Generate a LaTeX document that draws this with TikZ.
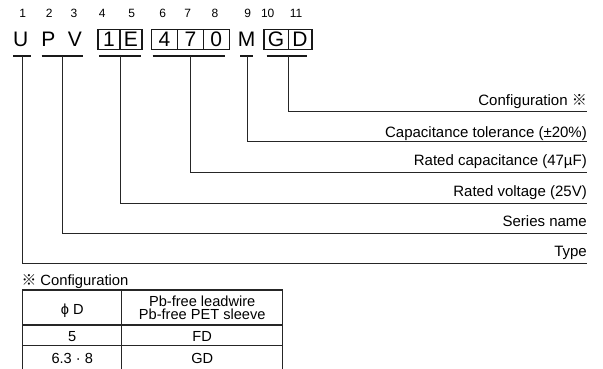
\documentclass[tikz,border=0pt]{standalone}
\usepackage{fontspec}
\setmainfont{Liberation Sans}
\newfontfamily\cjk{Noto Sans CJK JP}
\begin{document}
\begin{tikzpicture}[x=1pt,y=-1pt,
  num/.style={font=\fontsize{12}{14}\selectfont, anchor=base, inner sep=0},
  big/.style={font=\fontsize{21}{24}\selectfont, anchor=base, inner sep=0},
  lbl/.style={font=\fontsize{15}{17}\selectfont, anchor=base east, inner sep=0},
  cell/.style={font=\fontsize{14.6}{13.2}\selectfont, inner sep=0, align=center},
  codebox/.style={line width=1.1pt, black!90},
  uline/.style={line width=2.6pt, black!90},
  conn/.style={line width=1pt, black!85},
  grid/.style={line width=1.1pt, black!85}]
\useasboundingbox (0,0) rectangle (603,369);

% position numbers
\node[num] (n1) at (22.7,17.5) {1};
\node[num] (n2) at (49.3,17.5) {2};
\node[num] (n3) at (74,17.5) {3};
\node[num] (n4) at (102.3,17.5) {4};
\node[num] (n5) at (131.7,17.5) {5};
\node[num] (n6) at (162.7,17.5) {6};
\node[num] (n7) at (187.7,17.5) {7};
\node[num] (n8) at (215,17.5) {8};
\node[num] (n9) at (247.7,17.5) {9};
\node[num] (n10) at (267.7,17.5) {10};
\node[num] (n11) at (296,17.5) {11};

% code letters
\node[big] (cU) at (20.7,46.3) {U};
\node[big] (cP) at (48.3,46.3) {P};
\node[big] (cV) at (75,46.3) {V};
\node[big] (c1) at (109,46.3) {1};
\node[big] (cE) at (131,46.3) {E};
\node[big] (c4) at (164.5,46.3) {4};
\node[big] (c7) at (190.4,46.3) {7};
\node[big] (c0) at (216.3,46.3) {0};
\node[big] (cM) at (246.7,46.3) {M};
\node[big] (cG) at (276,46.3) {G};
\node[big] (cD) at (300,46.3) {D};

% boxes
\draw[codebox] (98,29.5) rectangle (142,49.3);
\draw[codebox] (120,29.5) -- (120,49.3);
\draw[codebox] (151.5,29.5) rectangle (229.3,49.3);
\draw[codebox] (177.5,29.5) -- (177.5,49.3);
\draw[codebox] (203.3,29.5) -- (203.3,49.3);
\draw[codebox] (264,29.5) rectangle (312,49.3);
\draw[codebox] (288.5,29.5) -- (288.5,49.3);

% underlines
\draw[uline] (13.3,56) -- (30.7,56);
\draw[uline] (41.7,56) -- (83.3,56);
\draw[uline] (99.3,56) -- (140.7,56);
\draw[uline] (152.7,56) -- (225,56);
\draw[uline] (240,56) -- (253.3,56);
\draw[uline] (266.7,56) -- (306.7,56);

\coordinate (tU) at (22.7,56);
\coordinate (tPV) at (62.9,56);
\coordinate (t1E) at (120,56);
\coordinate (t470) at (190.5,56);
\coordinate (tM) at (247.5,56);
\coordinate (tGD) at (288.7,56);

\coordinate (eGD) at (587,111.5);
\coordinate (eM) at (587,141.9);
\coordinate (e470) at (587,172.3);
\coordinate (e1E) at (587,203);
\coordinate (ePV) at (587,233.3);
\coordinate (eU) at (587,263.7);

% labels
\node[lbl] (lGD) at (587,106) {Configuration {\cjk ※}};
\node[lbl] (lM) at (587,137.5) {Capacitance tolerance (±20\%)};
\node[lbl] (l470) at (587,165) {Rated capacitance (47µF)};
\node[lbl] (l1E) at (587,196) {Rated voltage (25V)};
\node[lbl] (lPV) at (587,226) {Series name};
\node[lbl] (lU) at (587,256) {Type};

% connectors
\draw[conn] (tGD) |- (eGD);
\draw[conn] (tM) |- (eM);
\draw[conn] (t470) |- (e470);
\draw[conn] (t1E) |- (e1E);
\draw[conn] (tPV) |- (ePV);
\draw[conn] (tU) |- (eU);

% configuration table
\node[font=\fontsize{14.8}{17}\selectfont, anchor=base west, inner sep=0] (cfgtitle) at (21.3,285.7) {{\cjk ※} Configuration};
\draw[grid] (22.7,369) -- (22.7,290) -- (282.7,290) -- (282.7,369);
\draw[grid] (121.7,290) -- (121.7,369);
\draw[grid] (22.7,325) -- (282.7,325);
\draw[grid] (22.7,345.7) -- (282.7,345.7);

\node[cell, anchor=base] (hD) at (72.2,314.3) {ϕ D};
\node[cell] (hPb) at (202.2,307.5) {Pb-free leadwire\\Pb-free PET sleeve};
\node[cell, anchor=base] (r1a) at (72.2,341.2) {5};
\node[cell, anchor=base] (r1b) at (202.2,341.2) {FD};
\node[cell, anchor=base] (r2a) at (72.2,363) {6.3 · 8};
\node[cell, anchor=base] (r2b) at (202.2,363) {GD};
\end{tikzpicture}
\end{document}
